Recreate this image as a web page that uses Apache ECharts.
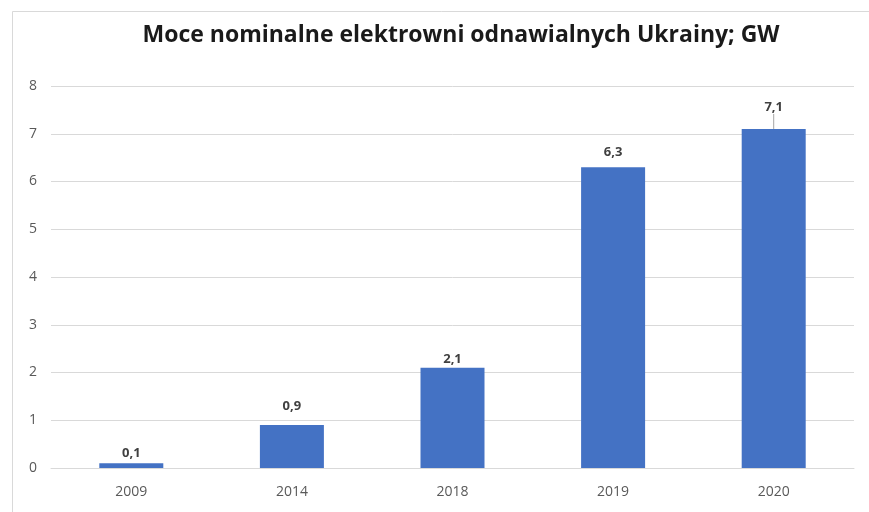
<!DOCTYPE html>
<html>
<head>
<meta charset="utf-8">
<script src="https://cdn.jsdelivr.net/npm/echarts@6/dist/echarts.min.js"></script>
<style>
html, body { margin: 0; padding: 0; background: #fff; }
#chart { width: 869px; height: 512px; }
</style>
</head>
<body>
<div id="chart"></div>
<script>
var years = ['2009', '2014', '2018', '2019', '2020'];
var capacity = [0.1, 0.9, 2.1, 6.3, 7.1];
var yTicks = { min: 0, max: 8, interval: 1 };

var myChart = echarts.init(document.getElementById('chart'));

// przesunięcia etykiet jak w oryginale (px)
var labelShift = [5, -4, 6, 0, -7];
var lastIdx = capacity.length - 1;
var barData = capacity.map(function(v, i) {
	if (i === lastIdx) {
		return { value: v, labelLine: { show: true, lineStyle: { color: '#a6a6a6', width: 1 } } };
	}
	return { value: v };
});

var option = {
	backgroundColor: '#fff',
	animation: false,
	title: {
		text: 'Moce nominalne elektrowni odnawialnych Ukrainy; GW',
		left: 456,
		top: 19,
		textAlign: 'center',
		textStyle: {
			fontFamily: 'Open Sans',
			fontWeight: 'bold',
			fontSize: 23,
			color: '#1a1a1a'
		}
	},
	graphic: [{
		type: 'rect',
		shape: { x: 12.5, y: 11.5, width: 900, height: 520 },
		style: { fill: 'none', stroke: '#d9d9d9', lineWidth: 1 },
		silent: true
	}],
	grid: {
		left: 51,
		right: 15,
		top: 86,
		bottom: 44
	},
	xAxis: {
		type: 'category',
		data: years,
		axisLine: { lineStyle: { color: '#d9d9d9' } },
		axisTick: { show: false },
		axisLabel: {
			color: '#595959',
			fontFamily: 'Open Sans',
			fontSize: 14,
			margin: 17
		}
	},
	yAxis: {
		type: 'value',
		min: yTicks.min,
		max: yTicks.max,
		interval: yTicks.interval,
		axisLine: { show: false },
		axisTick: { show: false },
		splitLine: { lineStyle: { color: '#d9d9d9' } },
		axisLabel: {
			color: '#595959',
			fontFamily: 'Open Sans',
			fontSize: 14,
			margin: 14
		}
	},
	series: [{
		type: 'bar',
		data: barData,
		barWidth: 64,
		itemStyle: { color: '#4472c4' },
		label: {
			show: true,
			position: 'top',
			distance: 8,
			color: '#404040',
			fontFamily: 'Open Sans',
			fontWeight: 'bold',
			fontSize: 13,
			formatter: function(p) {
				return String(p.value).replace('.', ',');
			}
		},
		labelLayout: function(params) {
			return { dy: labelShift[params.dataIndex] };
		},
		labelLine: { show: false }
	}]
};

myChart.setOption(option);
window.addEventListener('resize', function() {
	myChart.resize();
});
</script>
</body>
</html>
